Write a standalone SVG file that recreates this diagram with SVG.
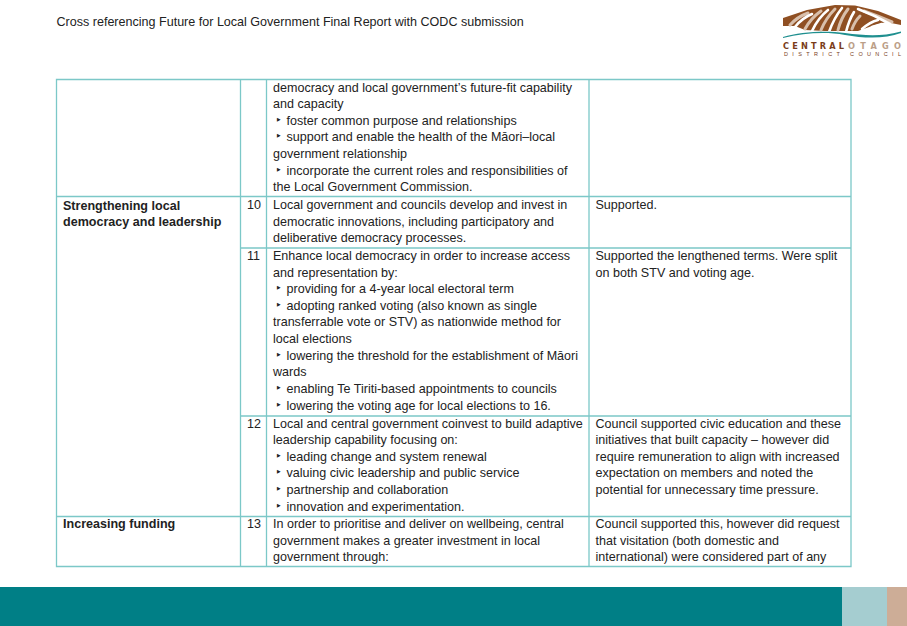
<svg xmlns="http://www.w3.org/2000/svg" width="907" height="626" viewBox="0 0 907 626">
<style>
text{font-family:"Liberation Sans",Arial,sans-serif;font-size:12.55px;fill:#222}
.b{font-weight:bold}
.l{stroke:#7cc8c8;stroke-width:1.3;fill:none}
.w{stroke:#fff;stroke-width:2.6;fill:none;stroke-linecap:round}
.t{stroke:#d8bfab;stroke-width:3;fill:none;stroke-linecap:round}
.lg{font-family:"DejaVu Sans",sans-serif;font-weight:bold;font-size:8.2px}
</style>
<rect width="907" height="626" fill="#fff"/>
<text id="title" x="56.500" y="26">Cross referencing Future for Local Government Final Report with CODC submission</text>
<g id="logo">
<path fill="#8f4f22" d="M783 26L783 18L807 10L835 5L855 5.500L878 11L901 20L901 25L886 22L872 26L858 31L845 31L825 31L805 30L795 26Z"/>
<path class="t" d="M790 25Q797 17 808 13M805 29Q811 18 821 11M821 30Q826 18 835 9M838 30Q841 18 848 9M852 29Q855 21 860 16M864 11Q878 16 892 22"/>
<path class="w" d="M795 27Q802 18 812 14M812 31Q818 18 828 10M829 32Q834 18 842 8M846 32Q849 20 854 12M858 9Q874 15 890 24M862 29Q870 22 878 20M872 27L882 24"/>
<path fill="#1f8f8f" d="M783 37C800 32 825 30.500 845 33S880 37 901 31.500L901 33C885 39 865 38.500 845 35S805 33 783 38Z"/>
<text x="783" y="49" class="lg" style="fill:#7a3d1a" textLength="61">CENTRAL</text>
<text x="848" y="49" class="lg" style="fill:#bc9f88" textLength="53">OTAGO</text>
<text x="784" y="56" style="font-size:5.500px;fill:#7a3d1a" textLength="117">DISTRICT COUNCIL</text>
</g>
<g id="table-lines">
<path class="l" d="M56.500 79.500H851V566.500H56.500ZM240.500 79.500V566.500M266.500 79.500V566.500M589 79.500V566.500M56.500 196.500H851M240.500 248H851M240.500 416H851M56.500 516.500H851"/>
</g>
<g id="c1">
<text x="63" y="209.500" class="b">Strengthening local</text>
<text x="63" y="226" class="b">democracy and leadership</text>
<text x="63" y="528" class="b">Increasing funding</text>
</g>
<g id="c2">
<text x="247" y="209">10</text>
<text x="247" y="260">11</text>
<text x="247" y="428">12</text>
<text x="247" y="528">13</text>
</g>
<g id="c3">
<text x="273" y="91.500">democracy and local government’s future-fit capability</text>
<text x="273" y="108">and capacity</text>
<text x="276" y="124.700"><tspan style="font-size:14px">‣</tspan><tspan x="286.500">foster common purpose and relationships</tspan></text>
<text x="276" y="141.300"><tspan style="font-size:14px">‣</tspan><tspan x="286.500">support and enable the health of the Māori–local</tspan></text>
<text x="273" y="158">government relationship</text>
<text x="276" y="174.700"><tspan style="font-size:14px">‣</tspan><tspan x="286.500">incorporate the current roles and responsibilities of</tspan></text>
<text x="273" y="191.300">the Local Government Commission.</text>
<text x="273" y="209">Local government and councils develop and invest in</text>
<text x="273" y="225.700">democratic innovations, including participatory and</text>
<text x="273" y="242.300">deliberative democracy processes.</text>
<text x="273" y="260">Enhance local democracy in order to increase access</text>
<text x="273" y="276.500">and representation by:</text>
<text x="276" y="293"><tspan style="font-size:14px">‣</tspan><tspan x="286.500">providing for a 4-year local electoral term</tspan></text>
<text x="276" y="309.700"><tspan style="font-size:14px">‣</tspan><tspan x="286.500">adopting ranked voting (also known as single</tspan></text>
<text x="273" y="326.300">transferrable vote or STV) as nationwide method for</text>
<text x="273" y="343">local elections</text>
<text x="276" y="359.700"><tspan style="font-size:14px">‣</tspan><tspan x="286.500">lowering the threshold for the establishment of Māori</tspan></text>
<text x="273" y="376.300">wards</text>
<text x="276" y="393"><tspan style="font-size:14px">‣</tspan><tspan x="286.500">enabling Te Tiriti-based appointments to councils</tspan></text>
<text x="276" y="409.700"><tspan style="font-size:14px">‣</tspan><tspan x="286.500">lowering the voting age for local elections to 16.</tspan></text>
<text x="273" y="427.500">Local and central government coinvest to build adaptive</text>
<text x="273" y="444">leadership capability focusing on:</text>
<text x="276" y="460.700"><tspan style="font-size:14px">‣</tspan><tspan x="286.500">leading change and system renewal</tspan></text>
<text x="276" y="477.300"><tspan style="font-size:14px">‣</tspan><tspan x="286.500">valuing civic leadership and public service</tspan></text>
<text x="276" y="494"><tspan style="font-size:14px">‣</tspan><tspan x="286.500">partnership and collaboration</tspan></text>
<text x="276" y="510.700"><tspan style="font-size:14px">‣</tspan><tspan x="286.500">innovation and experimentation.</tspan></text>
<text x="273" y="528">In order to prioritise and deliver on wellbeing, central</text>
<text x="273" y="544.700">government makes a greater investment in local</text>
<text x="273" y="561.300">government through:</text>
</g>
<g id="c4">
<text x="595.500" y="209">Supported.</text>
<text x="595.500" y="260">Supported the lengthened terms. Were split</text>
<text x="595.500" y="276.500">on both STV and voting age.</text>
<text x="595.500" y="427.500">Council supported civic education and these</text>
<text x="595.500" y="444">initiatives that built capacity – however did</text>
<text x="595.500" y="460.700">require remuneration to align with increased</text>
<text x="595.500" y="477.300">expectation on members and noted the</text>
<text x="595.500" y="494">potential for unnecessary time pressure.</text>
<text x="595.500" y="528">Council supported this, however did request</text>
<text x="595.500" y="544.700">that visitation (both domestic and</text>
<text x="595.500" y="561.300">international) were considered part of any</text>
</g>
<g id="footer">
<rect x="0" y="587" width="842" height="39" fill="#007f86"/>
<rect x="842" y="587" width="45" height="39" fill="#a5cdd0"/>
<rect x="887" y="587" width="20" height="39" fill="#cdad97"/>
</g>
</svg>
